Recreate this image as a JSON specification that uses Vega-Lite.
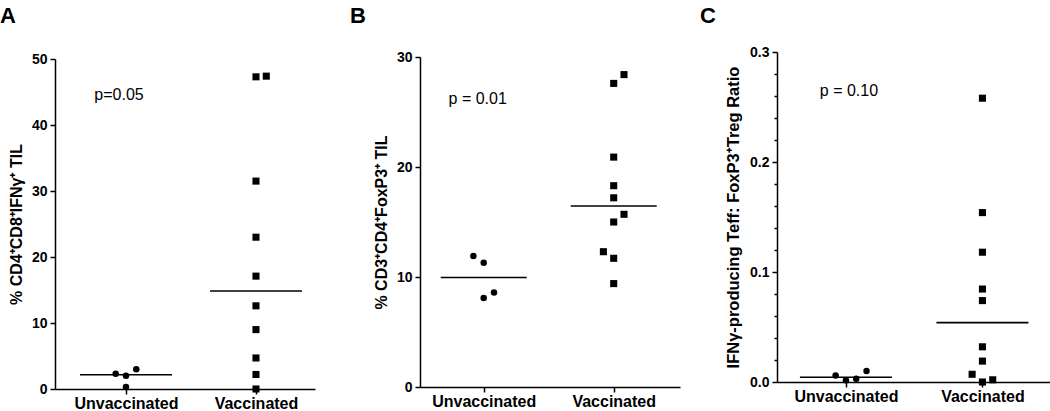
{
  "$schema": "https://vega.github.io/schema/vega-lite/v6.json",
  "padding": {"left": 0, "top": 5, "right": 0, "bottom": 0},
  "background": "white",
  "datasets": {
    "pts": [
      {"panel": "A", "group": "Unvaccinated", "slot": -1, "value": 2.3},
      {"panel": "A", "group": "Unvaccinated", "slot": 0, "value": 2.0},
      {"panel": "A", "group": "Unvaccinated", "slot": 1, "value": 3.0},
      {"panel": "A", "group": "Unvaccinated", "slot": 0, "value": 0.3},
      {"panel": "A", "group": "Vaccinated", "slot": 0, "value": 47.3},
      {"panel": "A", "group": "Vaccinated", "slot": 1, "value": 47.4},
      {"panel": "A", "group": "Vaccinated", "slot": 0, "value": 31.5},
      {"panel": "A", "group": "Vaccinated", "slot": 0, "value": 23.0},
      {"panel": "A", "group": "Vaccinated", "slot": 0, "value": 17.1},
      {"panel": "A", "group": "Vaccinated", "slot": 0, "value": 12.6},
      {"panel": "A", "group": "Vaccinated", "slot": 0, "value": 9.0},
      {"panel": "A", "group": "Vaccinated", "slot": 0, "value": 4.7},
      {"panel": "A", "group": "Vaccinated", "slot": 0, "value": 2.2},
      {"panel": "A", "group": "Vaccinated", "slot": 0, "value": 0.0},
      {"panel": "B", "group": "Unvaccinated", "slot": -1, "value": 11.9},
      {"panel": "B", "group": "Unvaccinated", "slot": 0, "value": 11.3},
      {"panel": "B", "group": "Unvaccinated", "slot": 0, "value": 8.1},
      {"panel": "B", "group": "Unvaccinated", "slot": 1, "value": 8.6},
      {"panel": "B", "group": "Vaccinated", "slot": 1, "value": 28.4},
      {"panel": "B", "group": "Vaccinated", "slot": 0, "value": 27.6},
      {"panel": "B", "group": "Vaccinated", "slot": 0, "value": 20.9},
      {"panel": "B", "group": "Vaccinated", "slot": 0, "value": 18.3},
      {"panel": "B", "group": "Vaccinated", "slot": 0, "value": 17.2},
      {"panel": "B", "group": "Vaccinated", "slot": 1, "value": 15.7},
      {"panel": "B", "group": "Vaccinated", "slot": 0, "value": 15.0},
      {"panel": "B", "group": "Vaccinated", "slot": -1, "value": 12.3},
      {"panel": "B", "group": "Vaccinated", "slot": 0, "value": 11.7},
      {"panel": "B", "group": "Vaccinated", "slot": 0, "value": 9.4},
      {"panel": "C", "group": "Unvaccinated", "slot": -1, "value": 0.006},
      {"panel": "C", "group": "Unvaccinated", "slot": 0, "value": 0.0015},
      {"panel": "C", "group": "Unvaccinated", "slot": 1, "value": 0.003},
      {"panel": "C", "group": "Unvaccinated", "slot": 2, "value": 0.010},
      {"panel": "C", "group": "Vaccinated", "slot": 0, "value": 0.258},
      {"panel": "C", "group": "Vaccinated", "slot": 0, "value": 0.154},
      {"panel": "C", "group": "Vaccinated", "slot": 0, "value": 0.118},
      {"panel": "C", "group": "Vaccinated", "slot": 0, "value": 0.0845},
      {"panel": "C", "group": "Vaccinated", "slot": 0, "value": 0.074},
      {"panel": "C", "group": "Vaccinated", "slot": 0, "value": 0.032},
      {"panel": "C", "group": "Vaccinated", "slot": 0, "value": 0.019},
      {"panel": "C", "group": "Vaccinated", "slot": -1, "value": 0.007},
      {"panel": "C", "group": "Vaccinated", "slot": 0, "value": 0.0},
      {"panel": "C", "group": "Vaccinated", "slot": 1, "value": 0.002}
    ],
    "med": [
      {"panel": "A", "group": "Unvaccinated", "value": 2.15},
      {"panel": "A", "group": "Vaccinated", "value": 14.85},
      {"panel": "B", "group": "Unvaccinated", "value": 9.95},
      {"panel": "B", "group": "Vaccinated", "value": 16.45},
      {"panel": "C", "group": "Unvaccinated", "value": 0.0043},
      {"panel": "C", "group": "Vaccinated", "value": 0.054}
    ],
    "pv": [
      {"panel": "A", "group": "Unvaccinated", "value": 44.5, "label": "p=0.05"},
      {"panel": "B", "group": "Unvaccinated", "value": 26.2, "label": "p = 0.01"},
      {"panel": "C", "group": "Unvaccinated", "value": 0.265, "label": "p = 0.10"}
    ]
  },
  "spacing": 105,
  "bounds": "flush",
  "hconcat": [
    {
      "width": 260,
      "height": 337,
      "title": {"text": "A", "dx": -55, "offset": 24},
      "layer": [
        {
          "data": {"name": "pts"},
          "transform": [{"filter": "datum.panel === 'A'"}],
          "mark": {"type": "point", "filled": true, "opacity": 1, "color": "black"},
          "encoding": {
            "x": {"field": "group", "type": "nominal", "scale": {"type": "point", "domain": ["Unvaccinated", "Vaccinated"], "range": [0, 260], "padding": 0.5, "align": 0.546}, "axis": {"title": null, "labelAngle": 0, "labelFontSize": 16, "labelFontWeight": "bold", "labelPadding": 1, "tickSize": 5}},
            "xOffset": {"field": "slot", "type": "quantitative", "scale": {"domain": [-1, 1], "range": [-10.3, 10.3]}},
            "y": {"field": "value", "type": "quantitative", "scale": {"domain": [0, 50], "range": [337, 7]}, "axis": {"values": [0, 10, 20, 30, 40, 50], "title": "% CD4⁺CD8⁺IFNγ⁺ TIL", "labelFontSize": 14, "labelFontWeight": "bold", "labelPadding": 3, "tickSize": 5, "titleFontSize": 16, "titleFontWeight": "bold", "titlePadding": 7}},
            "shape": {"field": "group", "type": "nominal", "scale": {"domain": ["Unvaccinated", "Vaccinated"], "range": ["circle", "square"]}, "legend": null},
            "size": {"field": "group", "type": "nominal", "scale": {"domain": ["Unvaccinated", "Vaccinated"], "range": [42, 50]}, "legend": null}
          }
        },
        {
          "data": {"name": "med"},
          "transform": [{"filter": "datum.panel === 'A'"}],
          "mark": {"type": "tick", "orient": "horizontal", "size": 92, "thickness": 1.6, "color": "black", "opacity": 1},
          "encoding": {
            "x": {"field": "group", "type": "nominal"},
            "y": {"field": "value", "type": "quantitative"}
          }
        },
        {
          "data": {"name": "pv"},
          "transform": [{"filter": "datum.panel === 'A'"}],
          "mark": {"type": "text", "fontSize": 16, "color": "black", "dx": -7},
          "encoding": {
            "x": {"field": "group", "type": "nominal"},
            "y": {"field": "value", "type": "quantitative"},
            "text": {"field": "label"}
          }
        }
      ]
    },
    {
      "width": 252,
      "height": 335,
      "title": {"text": "B", "dx": -70, "offset": 22},
      "layer": [
        {
          "data": {"name": "pts"},
          "transform": [{"filter": "datum.panel === 'B'"}],
          "mark": {"type": "point", "filled": true, "opacity": 1, "color": "black"},
          "encoding": {
            "x": {"field": "group", "type": "nominal", "scale": {"type": "point", "domain": ["Unvaccinated", "Vaccinated"], "range": [0, 260], "padding": 0.5, "align": 0.49}, "axis": {"title": null, "labelAngle": 0, "labelFontSize": 16, "labelFontWeight": "bold", "labelPadding": 1, "tickSize": 5}},
            "xOffset": {"field": "slot", "type": "quantitative", "scale": {"domain": [-1, 1], "range": [-10.3, 10.3]}},
            "y": {"field": "value", "type": "quantitative", "scale": {"domain": [0, 30], "range": [335, 5]}, "axis": {"values": [0, 10, 20, 30], "title": "% CD3⁺CD4⁺FoxP3⁺ TIL", "labelFontSize": 14, "labelFontWeight": "bold", "labelPadding": 3, "tickSize": 5, "titleFontSize": 16, "titleFontWeight": "bold", "titlePadding": 7}},
            "shape": {"field": "group", "type": "nominal", "scale": {"domain": ["Unvaccinated", "Vaccinated"], "range": ["circle", "square"]}, "legend": null},
            "size": {"field": "group", "type": "nominal", "scale": {"domain": ["Unvaccinated", "Vaccinated"], "range": [42, 50]}, "legend": null}
          }
        },
        {
          "data": {"name": "med"},
          "transform": [{"filter": "datum.panel === 'B'"}],
          "mark": {"type": "tick", "orient": "horizontal", "size": 86, "thickness": 1.6, "color": "black", "opacity": 1},
          "encoding": {
            "x": {"field": "group", "type": "nominal"},
            "y": {"field": "value", "type": "quantitative"}
          }
        },
        {
          "data": {"name": "pv"},
          "transform": [{"filter": "datum.panel === 'B'"}],
          "mark": {"type": "text", "fontSize": 16, "color": "black", "dx": -6},
          "encoding": {
            "x": {"field": "group", "type": "nominal"},
            "y": {"field": "value", "type": "quantitative"},
            "text": {"field": "label"}
          }
        }
      ]
    },
    {
      "width": 273,
      "height": 330,
      "title": {"text": "C", "dx": -77, "offset": 17},
      "resolve": {"axis": {"y": "independent"}},
      "layer": [
        {
          "data": {"name": "pts"},
          "transform": [{"filter": "datum.panel === 'C'"}],
          "mark": {"type": "point", "filled": true, "opacity": 1, "color": "black"},
          "encoding": {
            "x": {"field": "group", "type": "nominal", "scale": {"type": "point", "domain": ["Unvaccinated", "Vaccinated"], "range": [0, 273], "padding": 0.5, "align": 0.505}, "axis": {"title": null, "labelAngle": 0, "labelFontSize": 16, "labelFontWeight": "bold", "labelPadding": 1, "tickSize": 5}},
            "xOffset": {"field": "slot", "type": "quantitative", "scale": {"domain": [-1, 1], "range": [-10.3, 10.3]}},
            "y": {"field": "value", "type": "quantitative", "scale": {"domain": [0, 0.3], "range": [330, 0]}, "axis": {"orient": "left", "values": [0, 0.1, 0.2, 0.3], "format": ".1f", "tickSize": 5, "title": "IFNγ-producing Teff: FoxP3⁺Treg Ratio", "labelFontSize": 14, "labelFontWeight": "bold", "labelPadding": 3, "titleFontSize": 16.5, "titleFontWeight": "bold", "titlePadding": 8}},
            "shape": {"field": "group", "type": "nominal", "scale": {"domain": ["Unvaccinated", "Vaccinated"], "range": ["circle", "square"]}, "legend": null},
            "size": {"field": "group", "type": "nominal", "scale": {"domain": ["Unvaccinated", "Vaccinated"], "range": [42, 50]}, "legend": null}
          }
        },
        {
          "data": {"name": "med"},
          "transform": [{"filter": "datum.panel === 'C'"}],
          "mark": {"type": "tick", "orient": "horizontal", "size": 92, "thickness": 1.6, "color": "black", "opacity": 1},
          "encoding": {
            "x": {"field": "group", "type": "nominal"},
            "y": {"field": "value", "type": "quantitative", "axis": {"orient": "left", "values": [0.02, 0.04, 0.06, 0.08, 0.12, 0.14, 0.16, 0.18, 0.22, 0.24, 0.26, 0.28], "labels": false, "domain": false, "title": null, "tickSize": 3, "offset": 0}}
          }
        },
        {
          "data": {"name": "pv"},
          "transform": [{"filter": "datum.panel === 'C'"}],
          "mark": {"type": "text", "fontSize": 16, "color": "black", "dx": 3},
          "encoding": {
            "x": {"field": "group", "type": "nominal"},
            "y": {"field": "value", "type": "quantitative", "axis": null},
            "text": {"field": "label"}
          }
        }
      ]
    }
  ],
  "config": {
    "view": {"stroke": null},
    "font": "Liberation Sans",
    "axis": {"grid": false, "domainColor": "black", "domainWidth": 1.5, "tickColor": "black", "tickWidth": 1.5, "labelColor": "black", "titleColor": "black", "labelFont": "Liberation Sans", "titleFont": "Liberation Sans"},
    "title": {"anchor": "start", "frame": "group", "fontSize": 22, "fontWeight": "bold", "color": "black", "font": "Liberation Sans"}
  }
}
